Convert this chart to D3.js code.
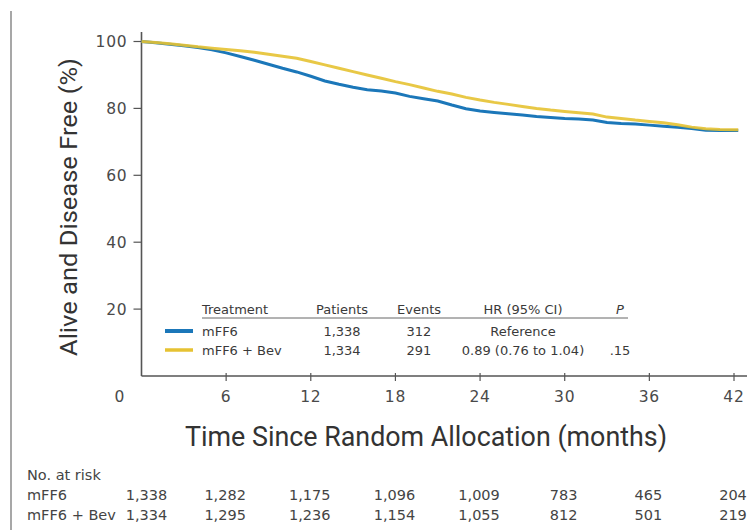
<!DOCTYPE html>
<html>
<head>
  <meta charset="utf-8">
  <style>
    * { margin: 0; padding: 0; box-sizing: border-box; }
    body { background: #fff; }
    svg { display: block; }
  </style>
</head>
<body>
  <div id="chart"></div>
  <script src="https://cdn.jsdelivr.net/npm/d3@7"></script>
  <script>
    // Kaplan-Meier estimates
    const months = [0, 1, 2, 3, 4, 5, 6, 7, 8, 9, 10, 11, 12, 13, 14, 15, 16, 17, 18, 19, 20, 21,
      22, 23, 24, 25, 26, 27, 28, 29, 30, 31, 32, 33, 34, 35, 36, 37, 38, 39, 40, 41, 42.3];
    const mff6 = [100, 99.6, 99.2, 98.7, 98.2, 97.5, 96.6, 95.5, 94.4, 93.2, 92.0, 90.9, 89.6, 88.2, 87.2,
      86.3, 85.6, 85.2, 84.6, 83.6, 82.9, 82.2, 81.0, 79.9, 79.2, 78.8, 78.4, 78.0, 77.6, 77.3, 77.0,
      76.8, 76.5, 75.8, 75.5, 75.3, 75.0, 74.7, 74.4, 74.0, 73.5, 73.4, 73.4];
    const mff6Bev = [100, 99.7, 99.3, 98.9, 98.4, 98.0, 97.6, 97.2, 96.8, 96.2, 95.6, 95.0, 94.0, 93.0, 92.0,
      91.0, 90.0, 89.0, 88.0, 87.1, 86.1, 85.1, 84.3, 83.3, 82.5, 81.8, 81.2, 80.6, 80.0, 79.5, 79.1,
      78.7, 78.3, 77.4, 77.0, 76.5, 76.1, 75.7, 75.1, 74.4, 73.9, 73.7, 73.6];

    const xTicks = [6, 12, 18, 24, 30, 36, 42];
    const yTicks = [20, 40, 60, 80, 100];
    const riskTimes = [0, 6, 12, 18, 24, 30, 36, 42];
    const riskMff6 = ['1,338', '1,282', '1,175', '1,096', '1,009', '783', '465', '204'];
    const riskBev = ['1,334', '1,295', '1,236', '1,154', '1,055', '812', '501', '219'];

    const legendHeader = ['Treatment', 'Patients', 'Events', 'HR (95% CI)', 'P'];
    const legendRows = [
      ['mFF6', '1,338', '312', 'Reference', ''],
      ['mFF6 + Bev', '1,334', '291', '0.89 (0.76 to 1.04)', '.15']
    ];

    const BLUE = '#1b77b9', GOLD = '#e6c232';
    const width = 753, height = 530;
    const x = d3.scaleLinear().domain([0, 42]).range([141.5, 734]);
    const y = d3.scaleLinear().domain([0, 100]).range([376, 41.5]);

    const svg = d3.select('#chart').append('svg')
      .attr('width', width).attr('height', height);

    // frame line on the left
    svg.append('line').attr('x1', 11).attr('x2', 11).attr('y1', 11).attr('y2', height)
      .attr('stroke', '#8a8a8a').attr('stroke-width', 1.5);

    const tickFont = 'DejaVu Sans, sans-serif';

    // y axis
    const yAxis = svg.append('g').attr('transform', 'translate(' + x(0) + ',0)');
    yAxis.append('line').attr('y1', 32).attr('y2', y(0)).attr('stroke', '#555').attr('stroke-width', 1.6);
    yAxis.selectAll('g.t').data(yTicks).join('g').attr('class', 't')
      .attr('transform', d => 'translate(0,' + y(d) + ')')
      .each(function(d) {
        const g = d3.select(this);
        g.append('line').attr('x1', -8).attr('x2', 0).attr('stroke', '#555').attr('stroke-width', 1.2);
        g.append('text').attr('x', -14).attr('dy', '0.35em').attr('text-anchor', 'end')
          .attr('font-family', tickFont).attr('font-size', 15.5).attr('letter-spacing', 0.8)
          .attr('fill', '#4a4a4a').text(d);
      });

    // x axis
    const xAxis = svg.append('g').attr('transform', 'translate(0,' + y(0) + ')');
    xAxis.append('line').attr('x1', x(0)).attr('x2', 747).attr('stroke', '#555').attr('stroke-width', 1.6);
    xAxis.selectAll('g.t').data(xTicks).join('g').attr('class', 't')
      .attr('transform', d => 'translate(' + x(d) + ',0)')
      .each(function(d) {
        const g = d3.select(this);
        g.append('line').attr('y1', -3).attr('y2', 5).attr('stroke', '#555').attr('stroke-width', 1.2);
        g.append('text').attr('y', 26).attr('text-anchor', 'middle')
          .attr('font-family', tickFont).attr('font-size', 15.5).attr('letter-spacing', 0.8)
          .attr('fill', '#4a4a4a').text(d);
      });
    xAxis.append('text').attr('x', x(0) - 22).attr('y', 26).attr('text-anchor', 'middle')
      .attr('font-family', tickFont).attr('font-size', 15.5).attr('fill', '#4a4a4a').text('0');

    // axis titles
    svg.append('text')
      .attr('transform', 'translate(77,' + 207 + ') rotate(-90)')
      .attr('text-anchor', 'middle').attr('font-family', 'Roboto, sans-serif').attr('font-size', 24)
      .attr('fill', '#333').attr('textLength', 298).attr('lengthAdjust', 'spacingAndGlyphs')
      .text('Alive and Disease Free (%)');
    svg.append('text')
      .attr('x', 426).attr('y', 446)
      .attr('text-anchor', 'middle').attr('font-family', 'Roboto, sans-serif').attr('font-size', 27)
      .attr('fill', '#333').attr('textLength', 482).attr('lengthAdjust', 'spacingAndGlyphs')
      .text('Time Since Random Allocation (months)');

    // survival curves (many small steps in the original, so drawn through the read points)
    const line = d3.line().x(d => x(d[0])).y(d => y(d[1])).curve(d3.curveLinear);
    svg.append('path').datum(d3.zip(months, mff6))
      .attr('fill', 'none').attr('stroke', BLUE).attr('stroke-width', 3).attr('d', line);
    svg.append('path').datum(d3.zip(months, mff6Bev))
      .attr('fill', 'none').attr('stroke', GOLD).attr('stroke-width', 3).attr('stroke-opacity', 0.9).attr('d', line);

    // legend table
    const legendFont = 'DejaVu Sans, sans-serif';
    const colX = [202, 342, 419, 523, 620];
    const colAnchor = ['start', 'middle', 'middle', 'middle', 'middle'];
    const legend = svg.append('g').attr('font-family', legendFont).attr('font-size', 13).attr('fill', '#3a3a3a');
    legend.selectAll('text.h').data(legendHeader).join('text').attr('class', 'h')
      .attr('x', (d, i) => colX[i]).attr('y', 314).attr('text-anchor', (d, i) => colAnchor[i])
      .attr('font-style', (d, i) => i === 4 ? 'italic' : 'normal')
      .text(d => d);
    legend.append('line').attr('x1', 202).attr('x2', 628).attr('y1', 318).attr('y2', 318)
      .attr('stroke', '#666').attr('stroke-width', 1);
    const rowY = [336, 355];
    const swatchColors = [BLUE, GOLD];
    legendRows.forEach(function(row, r) {
      legend.append('line').attr('x1', 165).attr('x2', 193).attr('y1', rowY[r] - 5).attr('y2', rowY[r] - 5)
        .attr('stroke', swatchColors[r]).attr('stroke-width', r === 0 ? 4 : 3.5);
      legend.selectAll('text.r' + r).data(row).join('text').attr('class', 'r' + r)
        .attr('x', (d, i) => colX[i]).attr('y', rowY[r]).attr('text-anchor', (d, i) => colAnchor[i])
        .text(d => d);
    });

    // number at risk
    const risk = svg.append('g').attr('font-family', legendFont).attr('font-size', 14.5).attr('fill', '#444');
    risk.append('text').attr('x', 27).attr('y', 480).text('No. at risk');
    risk.append('text').attr('x', 27).attr('y', 500).text('mFF6');
    risk.append('text').attr('x', 27).attr('y', 520).text('mFF6 + Bev');
    [riskMff6, riskBev].forEach(function(vals, r) {
      risk.selectAll('text.n' + r).data(vals).join('text').attr('class', 'n' + r)
        .attr('x', (d, i) => x(riskTimes[i]) + (i === 0 ? 5 : -1))
        .attr('y', 500 + r * 20).attr('text-anchor', 'middle').text(d => d);
    });
  </script>
</body>
</html>
